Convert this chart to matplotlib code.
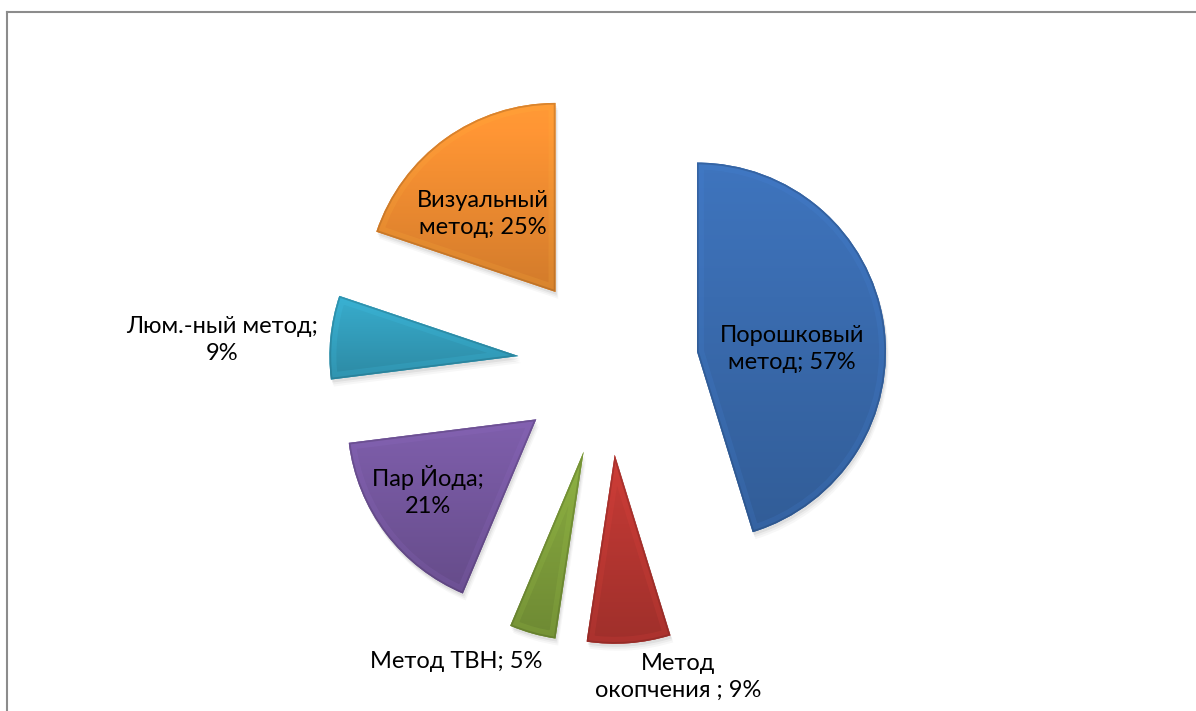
import numpy as np
import matplotlib
matplotlib.use('Agg')
import matplotlib.pyplot as plt
from matplotlib.patches import Wedge
from matplotlib.lines import Line2D
from matplotlib.colors import to_rgb

names = ['Порошковый\nметод', 'Метод\nокопчения ', 'Метод ТВН', 'Пар Йода',
         'Люм.-ный метод', 'Визуальный\nметод']
values = [57, 9, 5, 21, 9, 25]
breaks = [' ', ' ', ' ', '\n', '\n', ' ']
colors = ['#3A6CB0', '#B93732', '#80A03C', '#7658A0', '#34A0BE', '#F48F32']

# label centres, pixels from the top-left corner
label_xy = [(792, 349), (678, 677), (456, 662), (428, 491), (222, 340), (483, 214)]

W, H = 1196, 711
fig = plt.figure(figsize=(W / 100, H / 100), dpi=100)
ax = fig.add_axes([0, 0, 1, 1])

cx, cy, r, gap = 608, H - 365, 189, 90
wedges, _ = ax.pie(values, colors=colors, startangle=90, counterclock=False,
                   radius=r, center=(cx, cy), explode=[gap] * len(values),
                   frame=True, wedgeprops=dict(linewidth=0, zorder=2))

for w, c in zip(wedges, colors):
    base = np.array(to_rgb(c))
    # soft drop shadow
    for k, a in [(7, 0.03), (5, 0.04), (3, 0.06)]:
        ax.add_patch(Wedge((w.center[0] + k * 0.4, w.center[1] - k), w.r,
                           w.theta1, w.theta2, facecolor='black', alpha=a,
                           lw=0, zorder=1))
    # vertical shading inside the slice
    ext = w.get_path().get_extents()
    t = np.linspace(0, 1, 256)[:, None, None]
    grad = np.clip(base[None, None, :] * (1.08 - 0.22 * t), 0, 1)
    grad = np.repeat(grad, 4, axis=1)
    im = ax.imshow(grad, extent=(ext.x0, ext.x1, ext.y0, ext.y1), origin='upper',
                   aspect='auto', interpolation='bilinear', zorder=2.1)
    im.set_clip_path(w)
    # bevelled rim
    for lw, col, a in [(10, np.clip(base * 1.3, 0, 1), 0.15), (2.5, base * 0.6, 0.35)]:
        rim = Wedge(w.center, w.r, w.theta1, w.theta2, facecolor='none',
                    edgecolor=col, lw=lw, alpha=a, zorder=2.2)
        ax.add_patch(rim)
        rim.set_clip_path(w)

for name, v, sep, (x, y) in zip(names, values, breaks, label_xy):
    ax.text(x, H - y, f'{name};{sep}{v}%', ha='center', va='center',
            fontsize=17, family=['Lato', 'DejaVu Sans'], linespacing=1.3,
            color='black', zorder=5)

# chart frame (top and left edges)
ax.add_line(Line2D([7, W], [H - 12, H - 12], color='#8C8C8C', lw=1.5, zorder=6))
ax.add_line(Line2D([7, 7], [H - 12, 0], color='#8C8C8C', lw=1.5, zorder=6))

ax.set_xlim(0, W)
ax.set_ylim(0, H)
ax.set_aspect('auto')
ax.axis('off')

fig.savefig('out.png', dpi=100)
